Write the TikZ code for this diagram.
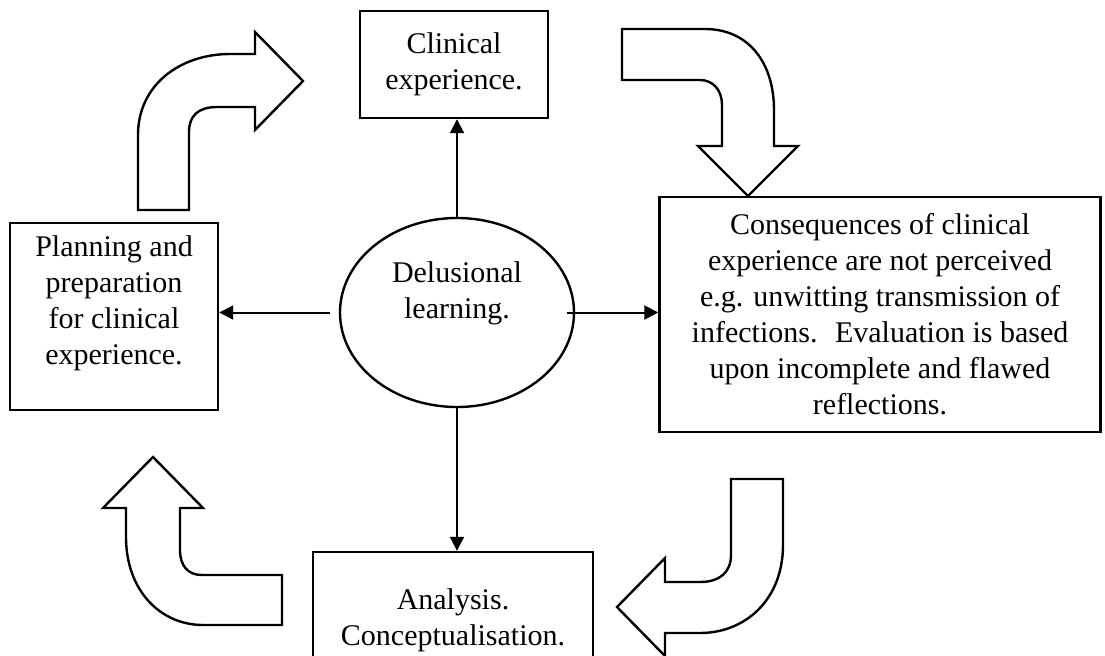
\documentclass[tikz,border=0pt]{standalone}
\usepackage{fontspec}
\setmainfont{Liberation Serif}
\usetikzlibrary{arrows.meta,shapes.geometric}

\begin{document}
\begin{tikzpicture}[x=0.5pt, y=-0.5pt, every node/.style={font=\fontsize{15}{18}\selectfont, align=center},
  box/.style={draw, line width=1.2pt, inner sep=0pt},
  conn/.style={line width=1pt, -{Triangle[length=7pt, width=7pt]}},
  bigarrow/.style={draw, line width=1.2pt, line join=miter}]
\useasboundingbox (0,0) rectangle (1105,655);
% boxes round the centre
\node[box, minimum width=94pt, minimum height=53.5pt] (clin) at (454,64.5) {Clinical\\experience.};
\node[box, minimum width=220.5pt, minimum height=117.5pt] (cons) at (880,314.5) {Consequences of clinical\\experience are not perceived\\e.g. unwitting transmission of\\infections.~ Evaluation is based\\upon incomplete and flawed\\reflections.};
\node[box, minimum width=104pt, minimum height=93.5pt] (plan) at (114,316.5) {};
\node (plantext) at ([yshift=6.5pt]plan.center) {Planning and\\preparation\\for clinical\\experience.};
\node[box, minimum width=140pt, minimum height=68pt] (anal) at (453,620) {Analysis.\\Conceptualisation.};
\node[box, ellipse, minimum width=117pt, minimum height=94.5pt] (learn) at (457,312.5) {};
\node (learntext) at ([yshift=9.5pt]learn.center) {Delusional\\learning.};
% connectors
\draw[conn] (learn.north) -- (learn.north |- clin.south);
\draw[conn] ([xshift=-4.5pt]learn.west) -- (plan.east |- learn.west);
\draw[conn] ([xshift=-4pt]learn.east) -- (cons.west |- learn.east);
\draw[conn] (learn.south) -- (learn.south |- anal.north);
% block arrows of the cycle
\draw[bigarrow] (138,210) -- (138,135) .. controls (138,85) and (180,54) .. (230,54) -- (255,54) -- (255,32) -- (303,81)
  -- (255,130) -- (255,107) -- (217,107) .. controls (198,107) and (189,116) .. (189,132) -- (189,210) -- cycle;
\draw[bigarrow] (622,29) -- (705,29) .. controls (748,29) and (774,62) .. (774,110) -- (774,146) -- (798,146) -- (748,196)
  -- (698,146) -- (722,146) -- (722,105) .. controls (722,90) and (713,80) .. (700,80) -- (622,80) -- cycle;
\draw[bigarrow] (282,625) -- (203,625) .. controls (160,625) and (126,590) .. (126,537) -- (126,508) -- (103,508) -- (153,457)
  -- (203,508) -- (180,508) -- (180,550) .. controls (180,566) and (188,575) .. (202,575) -- (282,575) -- cycle;
\draw[bigarrow] (731,479) -- (783,479) -- (783,545) .. controls (783,600) and (745,633) .. (700,633) -- (665,633) -- (665,656)
  -- (617,607) -- (665,558) -- (665,582) -- (700,582) .. controls (720,582) and (731,572) .. (731,555) -- cycle;
\end{tikzpicture}
\end{document}
